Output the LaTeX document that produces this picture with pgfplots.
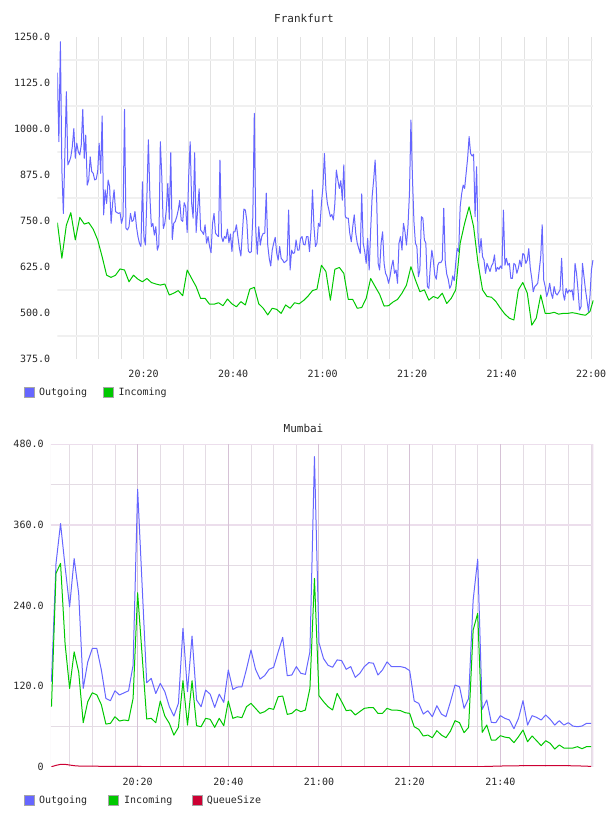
\documentclass[border=0pt]{standalone}
\usepackage{pgfplots}
\pgfplotsset{compat=1.18}
\usepackage{fontspec}
\setmainfont{DejaVu Sans Mono}
\definecolor{outc}{RGB}{102,102,255}
\definecolor{inc}{RGB}{0,200,0}
\definecolor{qc}{RGB}{204,0,51}
\definecolor{fgv}{RGB}{226,226,226}
\definecolor{fgh}{RGB}{240,240,240}
\definecolor{mgv}{RGB}{228,220,228}
\definecolor{mgV}{RGB}{214,194,214}
\definecolor{mgH}{RGB}{236,222,236}
\begin{document}
\begin{tikzpicture}
\useasboundingbox (0,0) rectangle (608bp,816bp);
\pgfplotsset{
  every axis/.append style={
    scale only axis, anchor=south west,
    axis line style={draw=none},
    major tick length=0pt, minor tick length=0pt,
    ticklabel style={font=\fontsize{10bp}{12bp}\selectfont, inner sep=0pt, text=black!85},
    yticklabel style={anchor=east, xshift=-7bp},
    clip=true,
  }
}
% ---------------- Frankfurt ----------------
\begin{axis}[at={(57.4bp,457bp)}, width=535.9bp, height=321.7bp,
  xmin=0.75, xmax=120.5, ymin=375, ymax=1250,
  xtick={20,40,60,80,100,120},
  xticklabels={20:20,20:40,21:00,21:20,21:40,22:00},
  xticklabel style={anchor=north, yshift=-10.7bp},
  ytick={375,500,625,750,875,1000,1125,1250},
  yticklabels={375.0,500.0,625.0,750.0,875.0,1000.0,1125.0,1250.0}]
\pgfplotsinvokeforeach{5,10,...,120}{\draw[fgv, line width=0.8bp] (axis cs:#1,375) -- (axis cs:#1,1250);}
\pgfplotsinvokeforeach{437.5,562.5,687.5,812.5,937.5,1062.5,1187.5}{\draw[fgh, line width=2bp] (axis cs:0.75,#1) -- (axis cs:120.5,#1);}
\addplot[outc, line width=1bp, line join=round] coordinates {
(0.75,1154)(1.08,966)(1.42,1238)(1.75,889)(2.08,771)(2.42,934)(2.75,1102)(3.08,903)(3.42,912)(3.75,925)
(4.08,952)(4.42,1002)(4.75,921)(5.08,962)(5.42,939)(5.75,930)(6.08,957)(6.42,1054)(6.75,921)(7.08,984)
(7.42,848)(7.75,862)(8.08,925)(8.42,885)(8.75,880)(9.08,862)(9.42,864)(9.75,885)(10.08,962)(10.42,880)
(10.75,1036)(11.08,767)(11.42,835)(11.75,798)(12.08,862)(12.42,844)(12.75,744)(13.08,798)(13.42,835)(13.75,776)
(14.08,773)(14.42,771)(14.75,773)(15.08,744)(15.42,762)(15.75,1054)(16.08,730)(16.42,726)(16.75,735)(17.08,771)
(17.42,749)(17.75,753)(18.08,776)(18.42,735)(18.75,708)(19.08,690)(19.42,681)(19.75,857)(20.08,708)(20.42,685)
(20.75,817)(21.08,971)(21.42,817)(21.75,735)(22.08,744)(22.42,712)(22.75,735)(23.08,671)(23.42,685)(23.75,966)
(24.08,871)(24.42,730)(24.75,744)(25.08,780)(25.42,853)(25.75,755)(26.08,936)(26.42,700)(26.75,744)(27.08,749)
(27.42,762)(27.75,780)(28.08,806)(28.42,753)(28.75,749)(29.08,800)(29.42,789)(29.75,719)(30.08,871)(30.42,966)
(30.75,798)(31.08,758)(31.42,936)(31.75,719)(32.08,780)(32.42,838)(32.75,726)(33.08,721)(33.42,714)(33.75,740)
(34.08,690)(34.42,708)(34.75,681)(35.08,664)(35.42,744)(35.75,771)(36.08,717)(36.42,712)(36.75,708)(37.08,916)
(37.42,708)(37.75,694)(38.08,708)(38.42,703)(38.75,728)(39.08,691)(39.42,715)(39.75,667)(40.08,721)(40.42,721)
(40.75,740)(41.08,708)(41.42,676)(41.75,655)(42.08,717)(42.42,783)(42.75,780)(43.08,751)(43.42,669)(43.75,664)
(44.08,667)(44.42,762)(44.75,1043)(45.08,726)(45.42,660)(45.75,735)(46.08,685)(46.42,708)(46.75,717)(47.08,717)
(47.42,826)(47.75,685)(48.08,649)(48.42,628)(48.75,671)(49.08,690)(49.42,706)(49.75,663)(50.08,644)(50.42,681)
(50.75,649)(51.08,644)(51.42,637)(51.75,640)(52.08,644)(52.42,780)(52.75,617)(53.08,671)(53.42,662)(53.75,664)
(54.08,699)(54.42,671)(54.75,671)(55.08,703)(55.42,708)(55.75,687)(56.08,685)(56.42,708)(56.75,708)(57.08,667)
(57.42,726)(57.75,835)(58.08,735)(58.42,681)(58.75,690)(59.08,744)(59.42,735)(59.75,798)(60.08,843)(60.42,934)
(60.75,835)(61.08,798)(61.42,780)(61.75,762)(62.08,768)(62.42,753)(62.75,798)(63.08,889)(63.42,862)(63.75,839)
(64.08,860)(64.42,807)(64.75,903)(65.08,762)(65.42,758)(65.75,758)(66.08,717)(66.42,694)(66.75,735)(67.08,767)
(67.42,717)(67.75,690)(68.08,676)(68.42,662)(68.75,824)(69.08,690)(69.42,667)(69.75,635)(70.08,703)(70.42,617)
(70.75,726)(71.08,817)(71.42,862)(71.75,916)(72.08,817)(72.42,635)(72.75,617)(73.08,690)(73.42,721)(73.75,635)
(74.08,608)(74.42,599)(74.75,581)(75.08,599)(75.42,626)(75.75,644)(76.08,608)(76.42,617)(76.75,581)(77.08,690)
(77.42,708)(77.75,671)(78.08,744)(78.42,721)(78.75,685)(79.08,735)(79.42,826)(79.75,1025)(80.08,871)(80.42,749)
(80.75,690)(81.08,681)(81.42,599)(81.75,617)(82.08,762)(82.42,758)(82.75,699)(83.08,690)(83.42,572)(83.75,567)
(84.08,626)(84.42,671)(84.75,644)(85.08,603)(85.42,592)(85.75,630)(86.08,638)(86.42,637)(86.75,644)(87.08,785)
(87.42,640)(87.75,606)(88.08,592)(88.42,567)(88.75,576)(89.08,601)(89.42,588)(89.75,635)(90.08,676)(90.42,667)
(90.75,789)(91.08,824)(91.42,848)(91.75,839)(92.08,880)(92.42,921)(92.75,980)(93.08,934)(93.42,927)(93.75,932)
(94.08,762)(94.42,898)(94.75,708)(95.08,664)(95.42,703)(95.75,653)(96.08,644)(96.42,608)(96.75,635)(97.08,624)
(97.42,613)(97.75,628)(98.08,635)(98.42,658)(98.75,613)(99.08,624)(99.42,619)(99.75,628)(100.08,621)(100.42,780)
(100.75,630)(101.08,649)(101.42,630)(101.75,635)(102.08,594)(102.42,594)(102.75,635)(103.08,631)(103.42,608)(103.75,622)
(104.08,644)(104.42,626)(104.75,662)(105.08,658)(105.42,635)(105.75,644)(106.08,675)(106.42,622)(106.75,594)(107.08,558)
(107.42,572)(107.75,576)(108.08,581)(108.42,617)(108.75,653)(109.08,740)(109.42,590)(109.75,572)(110.08,545)(110.42,558)
(110.75,581)(111.08,554)(111.42,540)(111.75,572)(112.08,554)(112.42,549)(112.75,556)(113.08,563)(113.42,649)(113.75,554)
(114.08,535)(114.42,567)(114.75,554)(115.08,563)(115.42,558)(115.75,563)(116.08,535)(116.42,635)(116.75,608)(117.08,563)
(117.42,508)(117.75,517)(118.08,635)(118.42,599)(118.75,563)(119.08,535)(119.42,504)(119.75,545)(120.08,617)(120.42,644)
};
\addplot[inc, line width=1bp, line join=round] coordinates {
(0.75,746)(1.75,649)(2.75,739)(3.75,773)(4.75,699)(5.75,760)(6.75,742)(7.75,746)(8.75,728)(9.75,699)
(10.75,653)(11.75,603)(12.75,597)(13.75,603)(14.75,620)(15.75,617)(16.75,585)(17.75,603)(18.75,592)(19.75,585)
(20.75,594)(21.75,583)(22.75,579)(23.75,576)(24.75,579)(25.75,549)(26.75,554)(27.75,561)(28.75,547)(29.75,617)
(30.75,594)(31.75,572)(32.75,540)(33.75,540)(34.75,524)(35.75,524)(36.75,528)(37.75,520)(38.75,538)(39.75,525)
(40.75,517)(41.75,531)(42.75,522)(43.75,565)(44.75,570)(45.75,525)(46.75,513)(47.75,495)(48.75,513)(49.75,510)
(50.75,499)(51.75,522)(52.75,513)(53.75,528)(54.75,525)(55.75,534)(56.75,546)(57.75,561)(58.75,565)(59.75,630)
(60.75,613)(61.75,535)(62.75,619)(63.75,624)(64.75,608)(65.75,537)(66.75,537)(67.75,513)(68.75,515)(69.75,540)
(70.75,594)(71.75,572)(72.75,551)(73.75,519)(74.75,520)(75.75,530)(76.75,537)(77.75,554)(78.75,576)(79.75,626)
(80.75,590)(81.75,558)(82.75,563)(83.75,535)(84.75,545)(85.75,540)(86.75,554)(87.75,526)(88.75,540)(89.75,563)
(90.75,690)(91.75,744)(92.75,789)(93.75,735)(94.75,635)(95.75,563)(96.75,545)(97.75,543)(98.75,531)(99.75,513)
(100.75,497)(101.75,486)(102.75,481)(103.75,563)(104.75,583)(105.75,554)(106.75,467)(107.75,486)(108.75,549)(109.75,499)
(110.75,499)(111.75,502)(112.75,497)(113.75,499)(114.75,499)(115.75,501)(116.75,499)(117.75,496)(118.75,494)(119.75,504)
(120.5,535)
};
\end{axis}
% ---------------- Mumbai ----------------
\begin{axis}[at={(50.8bp,49.3bp)}, width=542.5bp, height=322.4bp,
  xmin=0.85, xmax=120.5, ymin=0, ymax=480,
  xtick={20,40,60,80,100},
  xticklabels={20:20,20:40,21:00,21:20,21:40},
  xticklabel style={anchor=north, yshift=-11.3bp},
  ytick={0,120,240,360,480},
  yticklabels={0,120.0,240.0,360.0,480.0}]
\pgfplotsinvokeforeach{5,10,15,25,30,35,45,50,55,65,70,75,85,90,95,105,110,115,120}{\draw[mgv, line width=0.8bp] (axis cs:#1,0) -- (axis cs:#1,480);}
\pgfplotsinvokeforeach{60,180,300,420}{\draw[mgv, line width=0.8bp] (axis cs:0.85,#1) -- (axis cs:120.5,#1);}
\pgfplotsinvokeforeach{120,240,360,480}{\draw[mgH, line width=1.8bp] (axis cs:0.85,#1) -- (axis cs:120.5,#1);}
\pgfplotsinvokeforeach{20,40,60,80,100}{\draw[mgV, line width=1bp] (axis cs:#1,0) -- (axis cs:#1,480);}
\draw[mgH, line width=1.8bp] (axis cs:120.5,0) -- (axis cs:120.5,480);
\draw[mgv, line width=0.8bp] (axis cs:0.85,0) -- (axis cs:0.85,480);
\addplot[outc, line width=1bp, line join=round] coordinates {
(1,126.5)(2,302.7)(3,362)(4,298)(5,238)(6,310)(7,258)(8,116.6)(9,156)(10,176)
(11,176)(12,144)(13,101.7)(14,98.3)(15,113)(16,106.7)(17,110)(18,113)(19,151)(20,413)
(21,269)(22,125)(23,131.5)(24,109)(25,124)(26,111.7)(27,89.3)(28,75.4)(29,94.3)(30,206)
(31,111.7)(32,194.5)(33,99.3)(34,89.3)(35,114)(36,108)(37,88.3)(38,108)(39,95.8)(40,144)
(41,115)(42,118.6)(43,119)(44,145)(45,173.7)(46,145)(47,130.5)(48,135.5)(49,145)(50,148)
(51,171)(52,192.6)(53,135.5)(54,136.5)(55,149)(56,139)(57,137.5)(58,171)(59,461.6)(60,184.6)
(61,161)(62,151)(63,148)(64,159)(65,158)(66,145)(67,149)(68,133)(69,139)(70,149)
(71,155)(72,154)(73,136.5)(74,144)(75,156)(76,149)(77,149)(78,149)(79,147.4)(80,143)
(81,97.8)(82,94.3)(83,78.4)(84,83.4)(85,74.4)(86,90.8)(87,78.4)(88,74.4)(89,96.8)(90,121.6)
(91,119)(92,86.9)(93,101.7)(94,248)(95,309)(96,85.4)(97,99.3)(98,66)(99,65.5)(100,76)
(101,72)(102,69.5)(103,56.5)(104,72)(105,98.3)(106,62)(107,76)(108,73.4)(109,69.5)(110,77)
(111,70.5)(112,62)(113,68.5)(114,62)(115,65.5)(116,60.5)(117,59.5)(118,60.5)(119,64.5)(120,64.5)
};
\addplot[inc, line width=1bp, line join=round] coordinates {
(1,89.3)(2,288)(3,302.7)(4,183)(5,116.6)(6,171)(7,141)(8,65.5)(9,96.8)(10,110)
(11,107)(12,92.3)(13,63.5)(14,64.5)(15,74.4)(16,68)(17,69.5)(18,68.5)(19,101.7)(20,259)
(21,165)(22,71)(23,72)(24,65.5)(25,97.8)(26,75.4)(27,64.5)(28,47)(29,58.6)(30,128)
(31,62)(32,128)(33,61)(34,59.5)(35,72)(36,70.5)(37,58.6)(38,72)(39,61)(40,97.8)
(41,72)(42,74.4)(43,73)(44,89.3)(45,94.3)(46,86.9)(47,79.4)(48,81.9)(49,86.9)(50,85.4)
(51,104.2)(52,105.2)(53,77.9)(54,79.4)(55,85.4)(56,81.9)(57,84.4)(58,116.6)(59,280.4)(60,105.7)
(61,96.8)(62,89.3)(63,84.4)(64,109.2)(65,96.8)(66,83.4)(67,84.4)(68,77)(69,82)(70,86.9)
(71,87.9)(72,87.9)(73,79.4)(74,79.4)(75,86.9)(76,84.4)(77,84.4)(78,83.4)(79,80.4)(80,79.4)
(81,59.5)(82,55.6)(83,45.7)(84,47.1)(85,43.2)(86,53.6)(87,47.1)(88,43.2)(89,53.1)(90,68.5)
(91,65.5)(92,50.6)(93,58.6)(94,203.5)(95,228.3)(96,51.1)(97,62)(98,39.7)(99,39.7)(100,46.2)
(101,44)(102,43)(103,35.7)(104,44.7)(105,54.6)(106,37.2)(107,45.7)(108,38.7)(109,31.3)(110,38.7)
(111,34.7)(112,26.3)(113,32.3)(114,27.8)(115,27.8)(116,27.8)(117,29.8)(118,26.8)(119,29.8)(120,29.8)
};
\addplot[qc, line width=1bp, line join=round] coordinates {
(1,0)(2,2)(3,3.5)(4,3.5)(5,2.5)(6,1.5)(7,1)(8,1)(10,1)(12,0.5)(20,0.5)(22,0)(95,0)
(100,1)(105,1.5)(110,1.5)(115,1.5)(118,1)(120,0.5)
};
\end{axis}
% ---------------- titles and legends ----------------
\node[anchor=base, inner sep=0pt, font=\fontsize{11bp}{13bp}\selectfont, text=black!85] at (304bp,793bp) {Frankfurt};
\node[anchor=base, inner sep=0pt, font=\fontsize{11bp}{13bp}\selectfont, text=black!85] at (303.5bp,383bp) {Mumbai};
\begin{scope}[every node/.style={anchor=base west, inner sep=0pt, font=\fontsize{10bp}{12bp}\selectfont, text=black!85}]
\filldraw[fill=outc, draw=black!35, line width=0.6bp] (24bp,418.7bp) rectangle (34bp,428.7bp);
\node at (38.8bp,420.5bp) {Outgoing};
\filldraw[fill=inc, draw=black!35, line width=0.6bp] (102.8bp,418.7bp) rectangle (112.8bp,428.7bp);
\node at (118.3bp,420.5bp) {Incoming};
\filldraw[fill=outc, draw=black!35, line width=0.6bp] (24bp,10.7bp) rectangle (34bp,20.7bp);
\node at (38.8bp,12.3bp) {Outgoing};
\filldraw[fill=inc, draw=black!35, line width=0.6bp] (108.6bp,10.7bp) rectangle (118.6bp,20.7bp);
\node at (124bp,12.3bp) {Incoming};
\filldraw[fill=qc, draw=black!35, line width=0.6bp] (192.7bp,10.7bp) rectangle (202.7bp,20.7bp);
\node at (206.7bp,12.3bp) {QueueSize};
\end{scope}
\end{tikzpicture}
\end{document}
